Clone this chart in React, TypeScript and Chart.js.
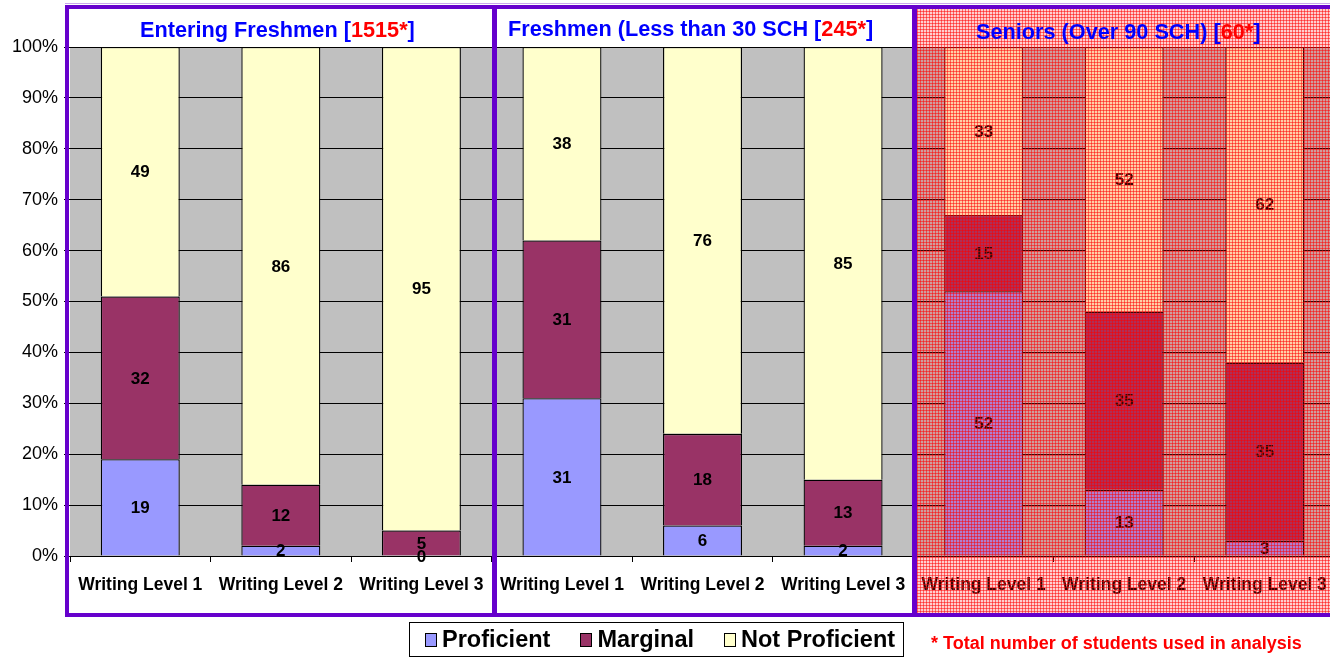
import React, { useEffect, useRef } from "react";
import Chart from "chart.js/auto";

const categories = [
  "Writing Level 1", "Writing Level 2", "Writing Level 3",
  "Writing Level 1", "Writing Level 2", "Writing Level 3",
  "Writing Level 1", "Writing Level 2", "Writing Level 3",
];
const proficient = [19, 2, 0, 31, 6, 2, 52, 13, 3];
const marginal = [32, 12, 5, 31, 18, 13, 15, 35, 35];
const notProficient = [49, 86, 95, 38, 76, 85, 33, 52, 62];
const seriesNames = ["Proficient", "Marginal", "Not Proficient"];
const seriesColors = ["#9999FF", "#993366", "#FFFFCC"];
const panelNames = ["Entering Freshmen [", "Freshmen (Less than 30 SCH [", "Seniors (Over 90 SCH) ["];
const panelCounts = ["1515*", "245*", "60*"];
const footnote = "* Total number of students used in analysis";

const FONT = '"Liberation Sans", Arial, Helvetica, sans-serif';
const PURPLE = "#6600CC";

const labelPlugin = {
  id: "segLabels",
  beforeDraw(chart: any) {
    const { ctx, chartArea: a } = chart;
    ctx.save();
    ctx.fillStyle = "#C0C0C0";
    ctx.fillRect(a.left, a.top, a.right - a.left, a.bottom - a.top);
    ctx.restore();
  },
  afterDatasetsDraw(chart: any) {
    const { ctx } = chart;
    ctx.save();
    ctx.font = `bold 17px ${FONT}`;
    ctx.fillStyle = "#000";
    ctx.textAlign = "center";
    ctx.textBaseline = "middle";
    chart.data.datasets.forEach((ds: any, di: number) => {
      const meta = chart.getDatasetMeta(di);
      meta.data.forEach((el: any, i: number) => {
        const y = (el.y + el.base) / 2;
        ctx.fillText(String(ds.data[i]), el.x, y + 1);
      });
    });
    ctx.restore();
  },
};

export default function App() {
  const ref = useRef<HTMLCanvasElement>(null);
  useEffect(() => {
    document.body.style.margin = "0";
    const chart = new Chart(ref.current!, {
      type: "bar",
      data: {
        labels: categories,
        datasets: [proficient, marginal, notProficient].map((d, i) => ({
          label: seriesNames[i],
          data: d,
          backgroundColor: seriesColors[i],
          borderColor: "#000",
          borderWidth: 1.3,
          categoryPercentage: 1,
          barPercentage: 0.562,
        })),
      },
      options: {
        responsive: false,
        animation: false,
        layout: { padding: { left: 0, right: 3, top: 47, bottom: 0 } },
        plugins: { legend: { display: false }, tooltip: { enabled: false }, title: { display: false } },
        scales: {
          x: {
            stacked: true,
            afterFit: (s: any) => { s.height = 102; },
            grid: { display: true, drawOnChartArea: false, offset: true, tickLength: 6, color: "#000" },
            border: { display: true, color: "#000" },
            ticks: {
              autoSkip: false, maxRotation: 0, minRotation: 0, padding: 13,
              color: "#000", font: { family: FONT, size: 17.5, weight: "bold" },
            },
          },
          y: {
            stacked: true,
            min: 0, max: 100,
            afterFit: (s: any) => { s.width = 70; },
            grid: { color: "#000", tickLength: 6, lineWidth: 1 },
            border: { display: false },
            ticks: {
              stepSize: 10, padding: 6, color: "#000",
              font: { family: FONT, size: 18 },
              callback: (v: any) => `${v}%`,
            },
          },
        },
      },
      plugins: [labelPlugin],
    });
    return () => chart.destroy();
  }, []);

  const titleLefts = [140, 508, 976];
  const titleTops = [17, 16, 19];
  const panels = [
    { left: 65, width: 432 },
    { left: 492, width: 425 },
    { left: 912, width: 430 },
  ];

  const title = (i: number) => (
    <div key={"t" + i} style={{
      position: "absolute", left: titleLefts[i], top: titleTops[i], whiteSpace: "nowrap",
      font: `bold 21.7px ${FONT}`, color: "#0000FF", lineHeight: "26px",
    }}>
      {panelNames[i]}<span style={{ color: "#FF0000" }}>{panelCounts[i]}</span>]
    </div>
  );

  return (
    <div style={{ position: "fixed", left: 0, top: 0, width: 1330, height: 658, overflow: "hidden", background: "#fff" }}>
      <canvas ref={ref} width={1340} height={658} style={{ position: "absolute", left: 0, top: 0 }} />
      {title(0)}
      {title(1)}
      <div style={{
        position: "absolute", left: 914, top: 8, width: 416, height: 607,
        backgroundColor: "rgba(255,30,30,0.22)",
        backgroundImage: "linear-gradient(to right, rgba(255,0,0,0.5) 1px, transparent 1px), linear-gradient(to bottom, rgba(255,0,0,0.5) 1px, transparent 1px)",
        backgroundSize: "3px 3px",
      }} />
      {title(2)}
      <div style={{ position: "absolute", left: 65, top: 3, width: 1265, height: 1, background: "rgba(102,0,204,0.35)" }} />
      {panels.map((p, i) => (
        <div key={i} style={{
          position: "absolute", left: p.left, top: 5, width: p.width, height: 612,
          boxSizing: "border-box", border: `4px solid ${PURPLE}`,
        }} />
      ))}
      <div style={{
        position: "absolute", left: 409, top: 622, width: 495, height: 35, boxSizing: "border-box",
        border: "1px solid #000", display: "flex", alignItems: "center", paddingLeft: 15, whiteSpace: "nowrap",
        font: `bold 23.5px ${FONT}`, color: "#000",
      }}>
        {seriesNames.map((n, i) => (
          <span key={i} style={{ display: "inline-flex", alignItems: "center", marginRight: i < 2 ? 30 : 0 }}>
            <span style={{ display: "inline-block", width: 10, height: 12, background: seriesColors[i], border: "1px solid #000", marginRight: 5 }} />
            {seriesNames[i]}
          </span>
        ))}
      </div>
      <div style={{
        position: "absolute", left: 931, top: 632, whiteSpace: "nowrap",
        font: `bold 18px ${FONT}`, color: "#FF0000", lineHeight: "22px",
      }}>{footnote}</div>
    </div>
  );
}
